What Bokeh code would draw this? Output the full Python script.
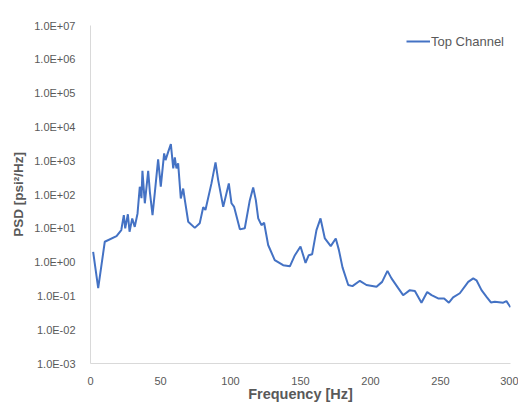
from bokeh.plotting import figure
from bokeh.models import FixedTicker, Legend, LegendItem
from bokeh.embed import file_html
from bokeh.resources import INLINE

freq = [1.9, 5.5, 10.2, 18.6, 22, 23.8, 24.8, 26.7, 27.9, 29.8, 31.6, 33.6, 35.2, 36.4,
        37.1, 38.8, 41.2, 42.4, 44.3, 46, 48.3, 50.2, 52.6, 53.6, 55.5, 57.4, 59.1, 60.2,
        61.4, 62.6, 64.5, 66.2, 67.4, 69.8, 74.5, 78, 80.5, 82.1, 86.4, 89.3, 91.2, 94.8,
        98.8, 100.7, 102.6, 106.7, 110.2, 113.8, 116.2, 118.1, 119.8, 122.1, 124, 126.9,
        131.6, 137.6, 142.4, 146, 150, 153.6, 155.9, 158.3, 161.4, 164.3, 167.4, 171.6,
        175.2, 177.4, 180, 184.1, 187.1, 192.4, 197.1, 204.3, 208.3, 212.1, 215, 219.8,
        223.3, 228.1, 231.7, 236.4, 240.5, 243.6, 248.3, 252.6, 256, 259, 263.8, 269.8,
        273.4, 275.7, 279.3, 282.9, 286, 288.8, 294.8, 297.1, 300]
psd = [2.0, 0.17, 4.0, 5.9, 8.9, 24.6, 10, 26, 7.9, 19.6, 11, 27.5, 170, 78,
       505, 55, 505, 120, 24.6, 120, 1100, 170, 1650, 1040, 1830, 3100, 590, 1250,
       590, 830, 76, 150, 68, 15.6, 10.3, 14, 42, 35, 213, 890, 267, 43,
       213, 55, 43, 9.3, 10, 68, 162, 68, 19.6, 12.4, 14.6, 3.2,
       1.15, 0.81, 0.75, 1.6, 2.9, 0.95, 1.6, 1.7, 8.8, 19.6, 5.0, 2.97,
       5.0, 2.3, 0.70, 0.21, 0.195, 0.28, 0.21, 0.186, 0.26, 0.55, 0.33, 0.17,
       0.105, 0.148, 0.14, 0.063, 0.13, 0.105, 0.084, 0.084, 0.063, 0.09, 0.12, 0.26,
       0.33, 0.29, 0.148, 0.094, 0.064, 0.067, 0.063, 0.07, 0.046]

y_ticks = [1e-3, 1e-2, 1e-1, 1e0, 1e1, 1e2, 1e3, 1e4, 1e5, 1e6, 1e7]
y_labels = ["1.0E-03", "1.0E-02", "1.0E-01", "1.0E+00", "1.0E+01", "1.0E+02",
            "1.0E+03", "1.0E+04", "1.0E+05", "1.0E+06", "1.0E+07"]
x_ticks = [0, 50, 100, 150, 200, 250, 300]
series_name = "Top Channel"

FONT = "Liberation Sans"
GREY = "#595959"

p = figure(width=518, height=404, y_axis_type="log", x_range=(0, 300), y_range=(1e-3, 1e7),
           output_backend="svg", toolbar_location=None,
           min_border_left=90, min_border_right=8, min_border_top=25, min_border_bottom=41)

r = p.line(freq, psd, line_color="#4472C4", line_width=2)

p.xgrid.visible = False
p.ygrid.visible = False
p.outline_line_color = None

p.yaxis.ticker = FixedTicker(ticks=y_ticks)
p.yaxis.major_label_overrides = {t: l for t, l in zip(y_ticks, y_labels)}
p.xaxis.ticker = FixedTicker(ticks=x_ticks)

for ax in (p.xaxis, p.yaxis):
    ax.axis_line_color = "#d9d9d9"
    ax.major_tick_line_color = None
    ax.minor_tick_line_color = None
    ax.major_label_text_font = FONT
    ax.major_label_text_font_size = "11px"
    ax.major_label_text_color = GREY
    ax.axis_label_text_font = FONT
    ax.axis_label_text_font_style = "bold"
    ax.axis_label_text_color = GREY

p.xaxis.axis_label_text_font_size = "14.5px"
p.yaxis.axis_label_text_font_size = "13.5px"
p.xaxis.axis_label = "Frequency [Hz]"
p.yaxis.axis_label = "PSD [psi²/Hz]"
p.xaxis.major_label_standoff = 7
p.xaxis.axis_label_standoff = -2
p.yaxis.major_label_standoff = 9
p.yaxis.axis_label_standoff = 5

legend = Legend(items=[LegendItem(label=series_name, renderers=[r])], location="top_right")
legend.border_line_color = None
legend.background_fill_alpha = 0
legend.label_text_font = FONT
legend.label_text_font_size = "13px"
legend.label_text_color = GREY
legend.glyph_width = 24
legend.label_standoff = 1
legend.margin = 6
legend.padding = 4
p.add_layout(legend)

open("out.html", "w").write(file_html(p, INLINE))
